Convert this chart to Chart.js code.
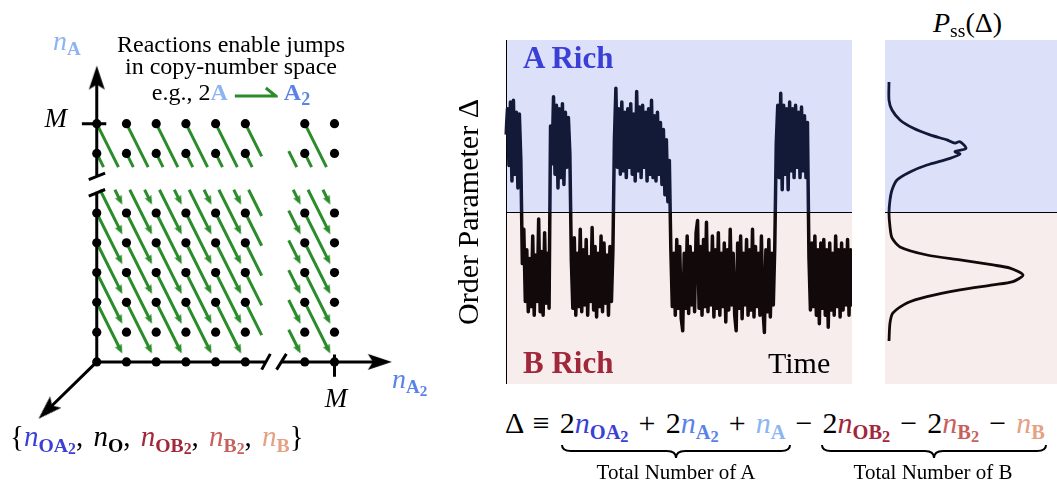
<!DOCTYPE html>
<html>
<head>
<meta charset="utf-8">
<script src="https://cdn.jsdelivr.net/npm/chart.js@4.4.0/dist/chart.umd.min.js"></script>
<style>
  html, body { margin: 0; padding: 0; background: #fff; }
  #fig { position: relative; width: 1057px; height: 482px; overflow: hidden;
         font-family: "Liberation Serif", "DejaVu Serif", serif; color: #000; }
  .box { position: absolute; }
  .lbl { position: absolute; white-space: nowrap; line-height: 1; }
  .mid { transform: translateX(-50%); }
  .sb { font-weight: bold; font-size: 0.68em; position: relative; top: 0.28em; }
  .sb .s2 { font-size: 0.8em; position: relative; top: 0.18em; }
  .c-oa2 { color: #3a3fd6; }
  .c-a2  { color: #5b82e8; }
  .c-a   { color: #8db4f2; }
  .c-ob2 { color: #a0283a; }
  .c-b2  { color: #c8615d; }
  .c-b   { color: #e6a084; }
</style>
</head>
<body>
<div id="fig">
  <div class="box" style="left:0;top:0;width:440px;height:482px"><canvas id="lattice"></canvas></div>
  <div class="box" style="left:440px;top:40px;width:412px;height:344px"><canvas id="trace"></canvas></div>
  <div class="box" style="left:885px;top:40px;width:172px;height:344px"><canvas id="density"></canvas></div>

  <!-- left panel labels -->
  <div class="lbl" style="left:53px;top:27px;font-size:28px"><i class="c-a">n</i><span class="sb c-a">A</span></div>
  <div class="lbl mid" style="left:231px;top:32px;font-size:24px">Reactions enable jumps</div>
  <div class="lbl mid" style="left:231px;top:54px;font-size:24px">in copy-number space</div>
  <div class="lbl mid" style="left:231px;top:80px;font-size:24px">e.g., 2<b class="c-a">A</b>
    <svg width="44" height="14" style="vertical-align:1px"><path d="M1 11 L42 11 L32 3" fill="none" stroke="#2a8c2a" stroke-width="3"/></svg>
    <b class="c-a2">A<span style="font-size:0.75em;position:relative;top:0.25em">2</span></b></div>
  <div class="lbl" style="left:67px;top:105px;font-size:27px;transform:translateX(-100%)"><i>M</i></div>
  <div class="lbl mid" style="left:336px;top:385px;font-size:27px"><i>M</i></div>
  <div class="lbl" style="left:392px;top:365px;font-size:28px"><i class="c-a2">n</i><span class="sb c-a2">A<span class="s2">2</span></span></div>
  <div class="lbl" style="left:10px;top:422px;font-size:29px;word-spacing:3px">{<i class="c-oa2">n</i><span class="sb c-oa2">OA<span class="s2">2</span></span>, <i>n</i><span class="sb">O</span>, <i class="c-ob2">n</i><span class="sb c-ob2">OB<span class="s2">2</span></span>, <i class="c-b2">n</i><span class="sb c-b2">B<span class="s2">2</span></span>, <i class="c-b">n</i><span class="sb c-b">B</span>}</div>

  <!-- right panel labels -->
  <div class="lbl c-oa2" style="left:523px;top:42px;font-size:31px;font-weight:bold">A Rich</div>
  <div class="lbl c-ob2" style="left:523px;top:347px;font-size:31px;font-weight:bold">B Rich</div>
  <div class="lbl" style="left:768px;top:348px;font-size:30px">Time</div>
  <div class="lbl" style="left:933px;top:9px;font-size:28px"><i>P</i><span style="font-size:0.7em;position:relative;top:0.25em">ss</span>(Δ)</div>

  <div class="lbl" style="left:505px;top:408px;font-size:30px;word-spacing:2.6px">Δ ≡ 2<i class="c-oa2">n</i><span class="sb c-oa2">OA<span class="s2">2</span></span> + 2<i class="c-a2">n</i><span class="sb c-a2">A<span class="s2">2</span></span> + <i class="c-a">n</i><span class="sb c-a">A</span> − 2<i class="c-ob2">n</i><span class="sb c-ob2">OB<span class="s2">2</span></span> − 2<i class="c-b2">n</i><span class="sb c-b2">B<span class="s2">2</span></span> − <i class="c-b">n</i><span class="sb c-b">B</span></div>
  <svg class="box" style="left:0;top:0" width="1057" height="482">
    <path id="braceA" fill="none" stroke="#000" stroke-width="2"/>
    <path id="braceB" fill="none" stroke="#000" stroke-width="2"/>
  </svg>
  <div class="lbl mid" style="left:676px;top:462px;font-size:21px">Total Number of A</div>
  <div class="lbl mid" style="left:933px;top:462px;font-size:21px">Total Number of B</div>
</div>

<script>
// --- DATA ---

// lattice sites that are drawn; 6 sits inside the axis breaks
const latticeCols = [0, 1, 2, 3, 4, 5, 7, 8];   // n_A2
const latticeRows = [0, 1, 2, 3, 4, 5, 7, 8];   // n_A
// sources of the 2A -> A2 jumps (one right, two down)
const jumpFromCols = [0, 1, 2, 3, 4, 5, 6, 7];
const jumpFromRows = [2, 3, 4, 5, 6, 7, 8];
const jumpStep = [1, -2];
// where the drawn lattice is cut by the breaks
const colBreak = [5.55, 6.46];
const rowBreak = [5.78, 6.54];

// axis lines of the lattice, ticks at M and the break marks
const axisSegments = [
    [[0, 0], [0, 5.72]], [[0, 6.2], [0, 9.49]],
    [[0, 0], [5.72, 0]], [[6.2, 0], [9.47, 0]],
    [[0, 0], [-1.63, -1.59]],
    [[-0.5, 8], [0.32, 8]], [[8, 0.25], [8, -0.5]],
    [[-0.27, 5.57], [0.28, 5.79]], [[-0.27, 6.12], [0.28, 6.34]],
    [[5.55, -0.26], [5.84, 0.27]], [[6.05, -0.26], [6.38, 0.27]]
];
const axisTips = [[0, 9.95], [9.93, 0], [-1.96, -1.91]];

// order parameter along one trajectory (arbitrary units, +-100 = panel edge)
const traceDelta = [
    45, 60, 27, 64, 18, 65, 22, 58, 14, 57, 30,
    -30, -10, -52, -22, -58, -27, -55, -14, -60, -25, -52, -4, -58, -23, -60, -12, -53, -24, -56,
    50, 28, 67, 22, 62, 14, 60, 20, 63, 16, 58, 26, 55, 34,
    -28, -56, -15, -60, -24, -55, -10, -58, -22, -54, -16, -60, -26, -52, -9, -57, -20, -61, -24, -55,
    -14, -58, -18, -53, -25, -60, -20, -52, -22,
    42, 72, 26, 60, 22, 64, 24, 58, 20, 60, 26, 63, 22, 57, 18, 70, 24, 61, 20, 62,
    26, 58, 18, 60, 22, 65, 20, 56, 18, 58, 22, 52, 16, 48, 10, 42, 6, 30,
    -22, -55, -24, -60, -16, -56, -20, -62, -69, -24, -56, -14, -59, -20, -54, -24, -58, -12, -5, -56,
    -20, -60, -16, -55, -6, -58, -24, -54, -14, -61, -22, -56, -12, -60, -24, -55, -18, -64, -22, -57,
    -10, -54, -24, -60, -69, -18, -56, -14, -62, -24, -54, -16, -60, -22, -57, -10, -61, -20, -55, -24,
    -60, -14, -56, -70, -22, -58, -16, -61, -24, -54, -20,
    40, 62, 20, 69, 13, 62, 22, 60, 13, 64, 24, 60, 20, 62, 26, 58, 20, 61, 24, 56, 20, 52,
    -26, -57, -18, -55, -14, -60, -22, -65, -18, -56, -16, -60, -22, -67, -18, -57, -24, -60, -14, -55,
    -22, -61, -18, -57, -22, -54, -16, -60, -22, -55
];

// steady-state distribution of the order parameter
const densityDelta = [75.6, 65.1, 59.3, 53.5, 48.8, 44.8, 41.9, 40.1, 40.9, 37.0, 35.1, 33.7, 31.2, 27.3,
    23.3, 18.6, 12.8, 7.0, -0.6, -8.7, -15.1, -20.3, -25.0, -27.9, -30.8, -32.6, -36.6, -40.5, -42.4,
    -45.3, -49.2, -52.9, -58.7, -64.5, -75.0];
const densityP = [1, 1, 4, 12, 25, 42, 59, 67, 72, 78, 67, 72, 62, 39,
    22, 9, 4, 2, 1, 2, 4, 12, 39, 72, 105, 122, 135, 125, 105,
    72, 39, 19, 5, 2, 1];

// --- HELPERS ---

const GREEN = '#2a8c2a';
const A_RICH_BG = '#dde0f9';
const B_RICH_BG = '#f8eded';

// arrow head image, tip in the centre, pointing up
function arrowHead(len, half, notch, color) {
    const c = document.createElement('canvas');
    c.width = c.height = 2 * Math.ceil(len + 1);
    const g = c.getContext('2d');
    const m = c.width / 2;
    g.fillStyle = color;
    g.beginPath();
    g.moveTo(m, m);
    g.lineTo(m + half, m + len);
    g.lineTo(m, m + len - notch);
    g.lineTo(m - half, m + len);
    g.closePath();
    g.fill();
    return c;
}

// Liang-Barsky clip of p->q to a box
function clipSegment(p, q, box) {
    let t0 = 0, t1 = 1;
    const dx = q.x - p.x, dy = q.y - p.y;
    const checks = [[-dx, p.x - box.x0], [dx, box.x1 - p.x], [-dy, p.y - box.y0], [dy, box.y1 - p.y]];
    for (const [pp, qq] of checks) {
        if (pp === 0) { if (qq < 0) return null; continue; }
        const r = qq / pp;
        if (pp < 0) { if (r > t1) return null; if (r > t0) t0 = r; }
        else { if (r < t0) return null; if (r < t1) t1 = r; }
    }
    if (t1 - t0 < 1e-6) return null;
    return [{ x: p.x + t0 * dx, y: p.y + t0 * dy }, { x: p.x + t1 * dx, y: p.y + t1 * dy }];
}

const inside = (pt, b) => pt.x >= b.x0 && pt.x <= b.x1 && pt.y >= b.y0 && pt.y <= b.y1;
const GAP = { x: null, y: null };

function splitColour(ctx, upper, lower) {
    const chart = ctx.chart;
    const area = chart.chartArea;
    if (!area) return lower;
    const zero = chart.scales.y.getPixelForValue(0);
    const f = Math.min(1, Math.max(0, (zero - area.top) / (area.bottom - area.top)));
    const g = chart.ctx.createLinearGradient(0, area.top, 0, area.bottom);
    g.addColorStop(0, upper); g.addColorStop(f, upper);
    g.addColorStop(f, lower); g.addColorStop(1, lower);
    return g;
}

// blue above zero, pink below, thin zero line
const richBands = {
    id: 'richBands',
    beforeDraw(chart) {
        const { ctx, chartArea: a, scales: { y } } = chart;
        const zero = y.getPixelForValue(0);
        ctx.save();
        ctx.fillStyle = A_RICH_BG;
        ctx.fillRect(a.left, a.top, a.right - a.left, zero - a.top);
        ctx.fillStyle = B_RICH_BG;
        ctx.fillRect(a.left, zero, a.right - a.left, a.bottom - zero);
        ctx.restore();
    },
    beforeDatasetsDraw(chart) {
        const { ctx, chartArea: a, scales: { y } } = chart;
        const zero = Math.round(y.getPixelForValue(0)) + 0.5;
        ctx.save();
        ctx.strokeStyle = '#000';
        ctx.lineWidth = 1;
        ctx.beginPath();
        ctx.moveTo(a.left, zero);
        ctx.lineTo(a.right, zero);
        ctx.stroke();
        ctx.restore();
    }
};

// --- LATTICE ---

function renderLattice() {
    const sites = [];
    latticeCols.forEach(i => latticeRows.forEach(j => sites.push({ x: i, y: j })));

    const panes = [
        { x0: -1, x1: colBreak[0], y0: -1, y1: rowBreak[0] },
        { x0: colBreak[1], x1: 9, y0: -1, y1: rowBreak[0] },
        { x0: -1, x1: colBreak[0], y0: rowBreak[1], y1: 9 },
        { x0: colBreak[1], x1: 9, y0: rowBreak[1], y1: 9 }
    ];

    const shafts = [];
    const heads = [];
    jumpFromCols.forEach(i => jumpFromRows.forEach(j => {
        const p = { x: i, y: j };
        const q = { x: i + 0.8 * jumpStep[0], y: j + 0.8 * jumpStep[1] };
        const tip = { x: i + 0.86 * jumpStep[0], y: j + 0.86 * jumpStep[1] };
        panes.forEach(b => {
            const seg = clipSegment(p, q, b);
            if (seg) shafts.push(seg[0], seg[1], GAP);
            if (inside(tip, b)) heads.push(tip);
        });
    }));

    const axisLine = [];
    axisSegments.forEach(([a, b]) => axisLine.push({ x: a[0], y: a[1] }, { x: b[0], y: b[1] }, GAP));
    const tips = axisTips.map(([x, y]) => ({ x, y }));
    const tipRotation = axisTips.map(([x, y]) => {
        // direction from the origin, clockwise from "up"
        const len = Math.hypot(x, y);
        return Math.atan2(x / len, y / len) * 180 / Math.PI;
    });
    const jumpRotation = Math.atan2(jumpStep[0], jumpStep[1]) * 180 / Math.PI;

    // px per lattice step ~30.55; origin at (93.3, 365)
    new Chart(document.getElementById('lattice'), {
        type: 'scatter',
        data: {
            datasets: [
                { data: sites, pointRadius: 4.6, pointBackgroundColor: '#000', pointBorderWidth: 0, order: 0 },
                { data: tips, pointStyle: arrowHead(24, 8, 5, '#000'), pointRadius: 5,
                  pointRotation: tipRotation, order: 1 },
                { data: axisLine, showLine: true, borderColor: '#000', borderWidth: 3, pointRadius: 0,
                  spanGaps: false, order: 2 },
                { data: heads, pointStyle: arrowHead(9, 3.8, 1, GREEN), pointRadius: 5,
                  pointRotation: jumpRotation, order: 3 },
                { data: shafts, showLine: true, borderColor: GREEN, borderWidth: 3, pointRadius: 0,
                  spanGaps: false, borderCapStyle: 'butt', order: 4 }
            ]
        },
        options: {
            responsive: true,
            maintainAspectRatio: false,
            animation: false,
            events: [],
            layout: { padding: 0 },
            plugins: { legend: { display: false }, tooltip: { enabled: false } },
            scales: {
                x: { type: 'linear', display: false, min: -93.3 / 30.55, max: (440 - 93.3) / 30.55 },
                y: { type: 'linear', display: false, min: (365 - 482) / 30.54, max: 365 / 30.54 }
            }
        }
    });
}

// --- TRAJECTORY ---

function renderTrace() {
    new Chart(document.getElementById('trace'), {
        type: 'line',
        data: {
            labels: traceDelta.map((_, i) => i),
            datasets: [{
                data: traceDelta,
                borderColor: ctx => splitColour(ctx, '#131a38', '#120a0a'),
                borderWidth: 3.5,
                borderJoinStyle: 'round',
                pointRadius: 0,
                tension: 0,
                fill: false
            }]
        },
        options: {
            responsive: true,
            maintainAspectRatio: false,
            animation: false,
            events: [],
            layout: { padding: 0 },
            plugins: { legend: { display: false }, tooltip: { enabled: false } },
            scales: {
                x: { display: false, offset: false },
                y: {
                    min: -100, max: 100,
                    ticks: { display: false },
                    grid: { display: false, drawTicks: false },
                    border: { display: true, color: '#000', width: 1 },
                    title: {
                        display: true,
                        text: 'Order Parameter Δ',
                        color: '#000',
                        font: { family: '"Liberation Serif", serif', size: 30, lineHeight: 1.2 },
                        padding: { top: 12, bottom: 18 }
                    }
                }
            }
        },
        plugins: [richBands]
    });
}

// --- DISTRIBUTION ---

function renderDensity() {
    new Chart(document.getElementById('density'), {
        type: 'scatter',
        data: {
            datasets: [{
                data: densityDelta.map((d, i) => ({ x: densityP[i], y: d })),
                showLine: true,
                borderColor: ctx => splitColour(ctx, '#131a38', '#120a0a'),
                borderWidth: 2.8,
                pointRadius: 0,
                tension: 0.25
            }]
        },
        options: {
            responsive: true,
            maintainAspectRatio: false,
            animation: false,
            events: [],
            layout: { padding: 0 },
            plugins: { legend: { display: false }, tooltip: { enabled: false } },
            scales: {
                x: { type: 'linear', display: false, min: -3, max: 169 },
                y: { type: 'linear', display: false, min: -100, max: 100 }
            }
        },
        plugins: [richBands]
    });
}

// curly braces under the two sums
function brace(id, x0, x1) {
    const mid = (x0 + x1) / 2, top = 445, flat = 451, tip = 458, r = 9;
    document.getElementById(id).setAttribute('d',
        `M${x0} ${top} Q${x0} ${flat} ${x0 + r} ${flat} L${mid - r} ${flat} Q${mid} ${flat} ${mid} ${tip} ` +
        `Q${mid} ${flat} ${mid + r} ${flat} L${x1 - r} ${flat} Q${x1} ${flat} ${x1} ${top}`);
}

renderLattice();
renderTrace();
renderDensity();
brace('braceA', 562, 790);
brace('braceB', 822, 1046);
</script>
</body>
</html>
